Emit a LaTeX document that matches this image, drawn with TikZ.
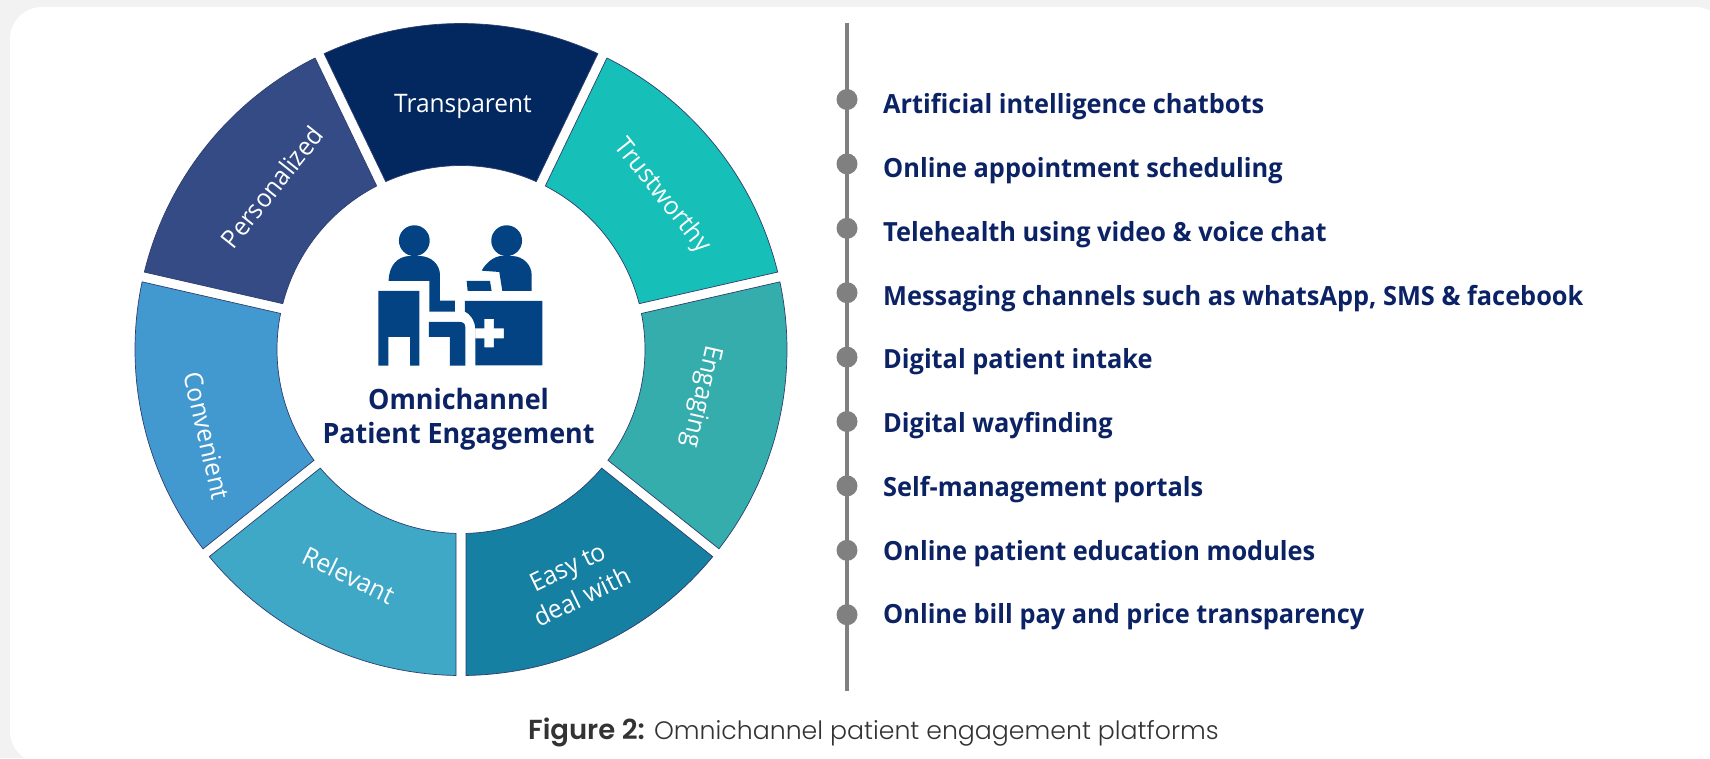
\documentclass[tikz,border=0pt]{standalone}
\usepackage{fontspec}
\setmainfont{Open Sans}[FakeStretch=0.96]
\newfontfamily\capfont{Poppins Light}
\newfontfamily\capboldfont{Poppins SemiBold}
\usetikzlibrary{calc}
\definecolor{bandgray}{HTML}{F2F2F2}
\definecolor{navy}{HTML}{0B2265}
\definecolor{iconblue}{HTML}{034383}
\definecolor{dotgray}{HTML}{808080}
\definecolor{capgray}{HTML}{333333}
\definecolor{segedge}{HTML}{2F3E70}
\definecolor{cTransparent}{HTML}{02285F}
\definecolor{cPersonalized}{HTML}{344B86}
\definecolor{cTrustworthy}{HTML}{16BFB8}
\definecolor{cEngaging}{HTML}{35ADAD}
\definecolor{cEasy}{HTML}{1580A2}
\definecolor{cRelevant}{HTML}{3FA8C6}
\definecolor{cConvenient}{HTML}{4299D0}
\tikzset{
  x=1pt,y=-1pt,
  seglabel/.style={text=white,font=\fontsize{25.5}{33}\selectfont,align=center,inner sep=0pt},
  listlabel/.style={text=navy,anchor=west,font=\fontsize{26.4}{30}\selectfont\bfseries,inner sep=0pt},
  centerlabel/.style={text=navy,font=\fontsize{28}{32}\selectfont\bfseries,inner sep=0pt},
  listdot/.style={circle,fill=dotgray,minimum size=21pt,inner sep=0pt},
  iconpart/.style={fill=iconblue,draw=none},
  ringseg/.style={draw=segedge,line width=0.7pt},
}
% #1 colour, #2 start angle, #3 end angle (math angles, counter-clockwise)
\newcommand{\ringsegment}[3]{%
  \fill[#1] ($(461,349.5)+(#2+0.88:326pt)$) arc[start angle=#2+0.88,end angle=#3-0.88,radius=326pt]
    -- ($(461,349.5)+(#3-1.56:184pt)$) arc[start angle=#3-1.56,end angle=#2+1.56,radius=184pt] -- cycle;
  \draw[ringseg] ($(461,349.5)+(#2+0.88:326pt)$) arc[start angle=#2+0.88,end angle=#3-0.88,radius=326pt]
    -- ($(461,349.5)+(#3-1.56:184pt)$) arc[start angle=#3-1.56,end angle=#2+1.56,radius=184pt] -- cycle;
}
\begin{document}
\begin{tikzpicture}
\useasboundingbox (0,0) rectangle (1710,758);
\fill[bandgray] (0,0) rectangle (1710,758);
\fill[white,rounded corners=32pt] (10,7) rectangle (1727,763);

\ringsegment{cTransparent}{64.29}{115.71}
\ringsegment{cPersonalized}{115.71}{167.14}
\ringsegment{cConvenient}{167.14}{218.57}
\ringsegment{cRelevant}{218.57}{270}
\ringsegment{cEasy}{270}{321.43}
\ringsegment{cEngaging}{321.43}{372.86}
\ringsegment{cTrustworthy}{12.86}{64.29}

\node[seglabel] (transparent) at (463,106) {Transparent};
\node[seglabel,rotate=51.43] (personalized) at (272,187) {Personalized};
\node[seglabel,rotate=-51.43] (trustworthy) at (662,196) {Trustworthy};
\node[seglabel,rotate=-102.86] (engaging) at (701,396) {Engaging};
\node[seglabel,rotate=-77.14] (convenient) at (207,436) {Convenient};
\node[seglabel,rotate=-25.71] (relevant) at (349,575) {Relevant};
\node[seglabel,rotate=25.71] (easy) at (575,582) {Easy to\\deal with};

% icon
\begin{scope}[shift={(360,210)},x=0.3333pt,y=-0.3333pt]
  \fill[iconpart] (163,92) circle[radius=15.4pt];
  \fill[iconpart] (440,92) circle[radius=15.4pt];
  \fill[iconpart] (86,213) .. controls (86,165) and (115,138) .. (150,138) -- (178,138)
     .. controls (215,138) and (240,165) .. (240,195) -- (240,272) -- (285,272) -- (285,305)
     -- (208,305) -- (208,213) -- cycle;
  \fill[iconpart] (365,182) .. controls (380,155) and (405,138) .. (425,138) -- (455,138)
     .. controls (490,138) and (515,165) .. (515,195) -- (515,243) -- (427,243) -- (418,186) -- cycle;
  \fill[iconpart] (320,213) -- (390,213) -- (395,243) -- (323,243) -- cycle;
  \fill[iconpart] (55,243) -- (178,243) -- (178,467) -- (150,467) -- (150,381) -- (85,381) -- (85,467) -- (55,467) -- cycle;
  \fill[iconpart] (207,336) -- (300,336) .. controls (310,336) and (316,342) .. (316,352)
     -- (316,467) -- (270,467) -- (270,381) -- (207,381) -- cycle;
  \fill[iconpart,even odd rule] (315,273) -- (547,273) -- (547,466) -- (346,466) -- (346,355)
     .. controls (344,330) and (330,312) .. (315,305) -- cycle
     (373,327) -- (402,327) -- (402,355) -- (432,355) -- (432,385) -- (402,385) -- (402,412)
     -- (373,412) -- (373,385) -- (346,385) -- (346,355) -- (373,355) -- cycle;
\end{scope}

\node[centerlabel] (omni) at (458.5,399) {Omnichannel};
\node[centerlabel] (patient) at (458.5,436) {Patient Engagement};

% timeline
\coordinate (linetop) at (847,23);
\coordinate (linebot) at (847,691);
\draw[dotgray,line width=3.4pt] (linetop) -- (linebot);
\foreach \i/\t in {0/Artificial intelligence chatbots,
                   1/Online appointment scheduling,
                   2/Telehealth using video \& voice chat,
                   3/{Messaging channels such as whatsApp, SMS \& facebook},
                   4/Digital patient intake,
                   5/Digital wayfinding,
                   6/Self-management portals,
                   7/Online patient education modules,
                   8/Online bill pay and price transparency}{
  \node[listdot] (dot\i) at (847,{99.5+64.4*\i}) {};
  \node[listlabel] (item\i) at (883,{107+63.75*\i}) {\t};
}

\node[anchor=west,inner sep=0pt,text=capgray,font=\capfont\fontsize{25.2}{30}\selectfont] (caption) at (528,732) {{\capboldfont\fontsize{27.5}{30}\selectfont Figure 2:} Omnichannel patient engagement platforms};
\end{tikzpicture}
\end{document}
